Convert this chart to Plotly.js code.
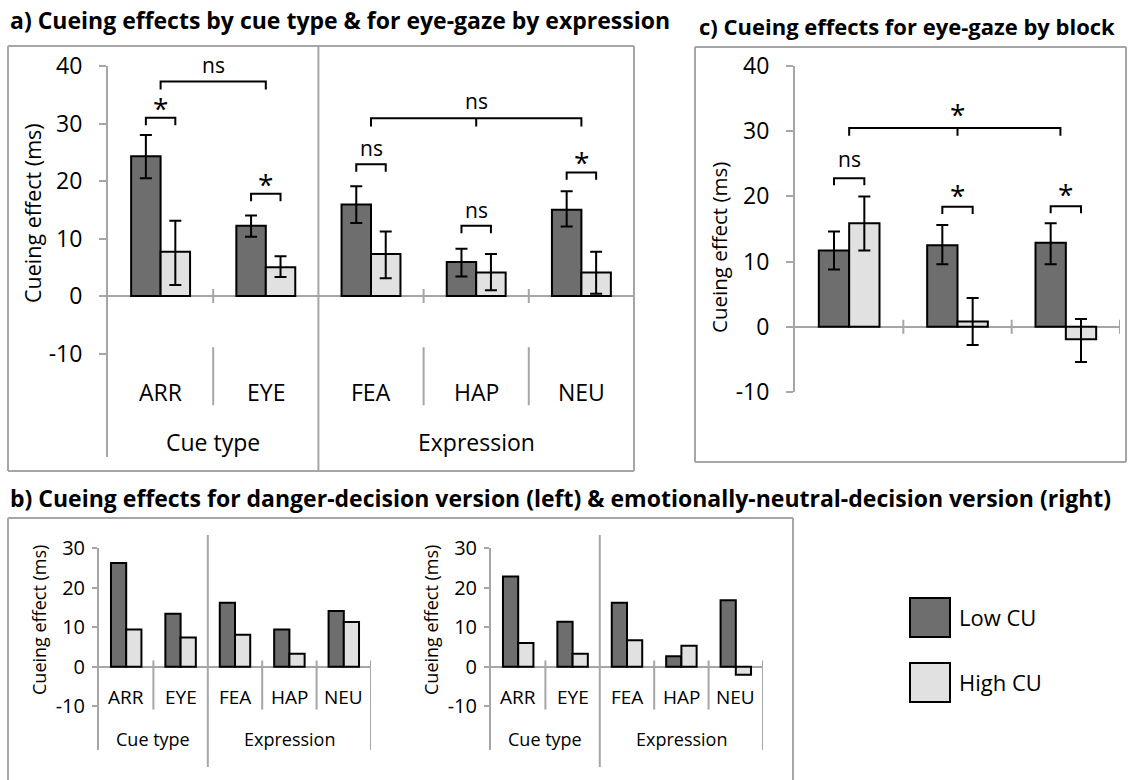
<!DOCTYPE html>
<html>
<head>
<meta charset="utf-8">
<script src="https://cdn.plot.ly/plotly-3.0.1.min.js"></script>
<style>
  html, body { margin: 0; padding: 0; background: #fff; }
  #chart { width: 1128px; height: 780px; }
</style>
</head>
<body>
<div id="chart"></div>
<script>
// ---- Series ----
const seriesNames = ['Low CU', 'High CU'];
const seriesColors = ['#6e6e6e', '#e1e1e1'];

// ---- a) cue type & eye-gaze by expression (means with error-bar bounds) ----
const catsA = ['ARR', 'EYE', 'FEA', 'HAP', 'NEU'];
const groupsA = ['Cue type', 'Expression'];
const groupSizesA = [2, 3];
const lowA = [24.3, 12.2, 15.9, 5.9, 15.0];
const lowA_lo = [20.5, 10.3, 12.7, 3.4, 12.1];
const lowA_hi = [28.0, 14.0, 19.1, 8.2, 18.2];
const highA = [7.7, 5.0, 7.3, 4.1, 4.1];
const highA_lo = [1.9, 3.3, 3.1, 1.0, 0.4];
const highA_hi = [13.1, 6.9, 11.2, 7.3, 7.7];

// ---- c) eye-gaze by block ----
const catsC = ['Block 1', 'Block 2', 'Block 3'];
const lowC = [11.7, 12.5, 12.9];
const lowC_lo = [8.8, 9.6, 9.6];
const lowC_hi = [14.6, 15.6, 15.9];
const highC = [15.9, 0.8, -1.9];
const highC_lo = [11.7, -2.8, -5.4];
const highC_hi = [20.0, 4.4, 1.2];

// ---- b) danger-decision (left) and emotionally-neutral-decision (right) ----
const lowB1 = [26.2, 13.4, 16.2, 9.4, 14.1];
const highB1 = [9.4, 7.4, 8.1, 3.3, 11.3];
const lowB2 = [22.8, 11.4, 16.2, 2.7, 16.8];
const highB2 = [6.0, 3.3, 6.7, 5.3, -2.0];

// ---- significance markers ----
// within-category comparisons (Low vs High CU)
const sigA_cat = [0, 1, 2, 3, 4];
const sigA_text = ['*', '*', 'ns', 'ns', '*'];
const sigA_top = [31.0, 17.8, 22.9, 12.2, 21.5];
// across-category comparisons: [from, to, middle]
const sigA_span = [[0, 1, null], [2, 4, 3]];
const sigA_spanText = ['ns', 'ns'];
const sigA_spanTop = [37.3, 30.9];

const sigC_cat = [0, 1, 2];
const sigC_text = ['ns', '*', '*'];
const sigC_top = [22.8, 18.4, 18.5];
const sigC_span = [[0, 1.95, 1]];
const sigC_spanText = ['*'];
const sigC_spanTop = [30.5];

// ---- layout helpers (paper is 1128 x 780 with no margins) ----
const W = 1128, H = 780;
const px = x => x / W;
const py = y => 1 - y / H;
const GRAY = '#a6a6a6';
const FONT = '"Open Sans", "Noto Sans", sans-serif';
const BAR_OFF = 0.14;   // centre offset of each bar in a pair (category units)

function barPair(xa, ya, low, high, lowBounds, highBounds) {
  const idx = low.map((_, i) => i);
  return [low, high].map((vals, s) => {
    const t = {
      type: 'bar', x: idx, y: vals, xaxis: xa, yaxis: ya, name: seriesNames[s],
      marker: { color: seriesColors[s], line: { color: '#000', width: 2 } },
      hoverinfo: 'skip', showlegend: false
    };
    const b = s === 0 ? lowBounds : highBounds;
    if (b) {
      t.error_y = {
        type: 'data', symmetric: false,
        array: b[1].map((h, i) => h - vals[i]),
        arrayminus: b[0].map((l, i) => vals[i] - l),
        color: '#000', thickness: 2, width: 6
      };
    }
    return t;
  });
}

function yAxis(top, bottom, range, tickvals, anchor, size, ticklen, standoff) {
  return {
    domain: [py(bottom), py(top)], range: range, anchor: anchor,
    tickmode: 'array', tickvals: tickvals, ticktext: tickvals.map(v => String(v)),
    ticks: 'outside', ticklen: ticklen, tickwidth: 2, tickcolor: GRAY,
    showline: true, linecolor: GRAY, linewidth: 2, showgrid: false,
    zeroline: true, zerolinecolor: GRAY, zerolinewidth: 2,
    tickfont: { family: FONT, size: size, color: '#000' },
    ticklabelstandoff: standoff, fixedrange: true
  };
}
function xAxis(left, right, n, anchor) {
  return {
    domain: [px(left), px(right)], range: [-0.5, n - 0.5], anchor: anchor,
    showticklabels: false, ticks: '', showline: false, showgrid: false,
    zeroline: false, fixedrange: true
  };
}

const shapes = [];
const annotations = [];

function line(xref, yref, x0, y0, x1, y1, color, width) {
  shapes.push({ type: 'line', xref, yref, x0, y0, x1, y1, line: { color: color || GRAY, width: width || 2 } });
}
function pxTick(xref, yref, x, up, down) {
  shapes.push({ type: 'line', xref, yref, ysizemode: 'pixel', yanchor: 0, x0: x, x1: x, y0: -down, y1: up,
    line: { color: GRAY, width: 2 } });
}
function text(xref, yref, x, y, t, size, opts) {
  annotations.push(Object.assign({ xref, yref, x, y, text: t, showarrow: false,
    xanchor: 'center', yanchor: 'middle',
    font: { family: FONT, size: size, color: '#000' } }, opts || {}));
}
function bracket(xref, yref, x0, x1, mid, top, drop) {
  let p = `M${x0},${top - drop}L${x0},${top}L${x1},${top}L${x1},${top - drop}`;
  if (mid !== null) p += `M${mid},${top}L${mid},${top - drop}`;
  shapes.push({ type: 'path', xref, yref, path: p, line: { color: '#000', width: 2 } });
}
function sigLabel(xref, yref, x, top, t, shiftStar, shiftNs) {
  text(xref, yref, x, top, t, t === '*' ? 28 : 21,
    { yshift: t === '*' ? shiftStar : shiftNs });
}

// Category and group labels below the zero line
function catLabels(xref, yref, cats, y, size) {
  cats.forEach((c, i) => text(xref, yref, i, y, c, size));
}
function groupLabels(xref, yref, groups, sizes, y, size) {
  let start = 0;
  groups.forEach((g, k) => {
    text(xref, yref, start + (sizes[k] - 1) / 2, y, g, size);
    start += sizes[k];
  });
}
function groupBounds(sizes) {
  const inner = [], outer = [];
  let start = 0;
  sizes.forEach((n, k) => {
    for (let j = 1; j < n; j++) inner.push(start + j - 0.5);
    start += n;
    outer.push(start - 0.5);
  });
  return { inner, outer };
}

// ---------- panel a ----------
const A = { x: 'x', y: 'y' };
const boundsA = groupBounds(groupSizesA);
boundsA.inner.forEach(b => {
  pxTick(A.x, A.y, b, 7, 7);
  line(A.x, A.y, b, -8.9, b, -19.0);
});
// box and divider between the two groups
line('paper', 'paper', px(8), py(46), px(634), py(46));
line('paper', 'paper', px(8), py(471), px(634), py(471));
line('paper', 'paper', px(8), py(46), px(8), py(471));
line('paper', 'paper', px(634), py(46), px(634), py(471));
shapes.push({ type: 'line', xref: A.x, yref: 'paper', x0: boundsA.outer[0], x1: boundsA.outer[0],
  y0: py(471), y1: py(46), line: { color: GRAY, width: 2 } });
catLabels(A.x, A.y, catsA, -16.7, 23);
groupLabels(A.x, A.y, groupsA, groupSizesA, -25.4, 23);
text('paper', 'paper', px(33), py(213), 'Cueing effect (ms)', 21.5, { textangle: -90 });
sigA_cat.forEach((c, k) => {
  bracket(A.x, A.y, c - BAR_OFF, c + BAR_OFF, null, sigA_top[k], 1.3);
  sigLabel(A.x, A.y, c, sigA_top[k], sigA_text[k], 10, 16);
});
sigA_span.forEach((s, k) => {
  bracket(A.x, A.y, s[0], s[1], s[2], sigA_spanTop[k], 1.4);
  sigLabel(A.x, A.y, (s[0] + s[1]) / 2, sigA_spanTop[k], sigA_spanText[k], 10, 17);
});
text('paper', 'paper', px(8), py(20), '<b>a) Cueing effects by cue type &amp; for eye-gaze by expression</b>', 23, { xanchor: 'left' });

// ---------- panel c ----------
const C = { x: 'x2', y: 'y2' };
for (let i = 0; i < catsC.length; i++) pxTick(C.x, C.y, i + 0.5, 7, 7);
line('paper', 'paper', px(695), py(47), px(1126), py(47));
line('paper', 'paper', px(695), py(462), px(1126), py(462));
line('paper', 'paper', px(695), py(47), px(695), py(462));
line('paper', 'paper', px(1126), py(47), px(1126), py(462));
catLabels(C.x, C.y, catsC, -15.4, 22);
text('paper', 'paper', px(719), py(248), 'Cueing effect (ms)', 20.5, { textangle: -90 });
sigC_cat.forEach((c, k) => {
  bracket(C.x, C.y, c - BAR_OFF, c + BAR_OFF, null, sigC_top[k], 1.1);
  sigLabel(C.x, C.y, c, sigC_top[k], sigC_text[k], 12, 19);
});
sigC_span.forEach((s, k) => {
  bracket(C.x, C.y, s[0], s[1], s[2], sigC_spanTop[k], 1.2);
  sigLabel(C.x, C.y, s[2], sigC_spanTop[k], sigC_spanText[k], 14, 19);
});
text('paper', 'paper', px(697), py(26), '<b>c) Cueing effects for eye-gaze by block</b>', 22, { xanchor: 'left' });

// ---------- panel b (two small charts) ----------
line('paper', 'paper', px(8), py(518), px(793), py(518));
line('paper', 'paper', px(8), py(518), px(8), py(790));
line('paper', 'paper', px(793), py(518), px(793), py(790));
const bPanels = [{ x: 'x3', y: 'y3', titleX: 39 }, { x: 'x4', y: 'y4', titleX: 431 }];
const boundsB = groupBounds(groupSizesA);
bPanels.forEach(P => {
  boundsB.inner.forEach(b => line(P.x, P.y, b, 1.6, b, -10.8));
  line(P.x, P.y, boundsB.outer[1], 1.6, boundsB.outer[1], -21);
  shapes.push({ type: 'line', xref: P.x, yref: 'paper', x0: boundsB.outer[0], x1: boundsB.outer[0],
    y0: py(767), y1: py(535), line: { color: GRAY, width: 2 } });
  catLabels(P.x, P.y, catsA, -7.7, 19);
  groupLabels(P.x, P.y, groupsA, groupSizesA, -18.1, 18);
  text('paper', 'paper', px(P.titleX), py(620), 'Cueing effect (ms)', 18, { textangle: -90 });
});
text('paper', 'paper', px(8), py(498), '<b>b) Cueing effects for danger-decision version (left) &amp; emotionally-neutral-decision version (right)</b>', 23, { xanchor: 'left' });

// ---------- legend ----------
const legendTops = [598, 663];
seriesNames.forEach((n, s) => {
  shapes.push({ type: 'rect', xref: 'paper', yref: 'paper', x0: px(910), x1: px(950),
    y0: py(legendTops[s] + 39), y1: py(legendTops[s]),
    fillcolor: seriesColors[s], line: { color: '#000', width: 2 } });
  text('paper', 'paper', px(957), py(legendTops[s] + 19), n, 22, { xanchor: 'left' });
});

// ---------- traces ----------
const traces = [].concat(
  barPair(A.x, A.y, lowA, highA, [lowA_lo, lowA_hi], [highA_lo, highA_hi]),
  barPair(C.x, C.y, lowC, highC, [lowC_lo, lowC_hi], [highC_lo, highC_hi]),
  barPair('x3', 'y3', lowB1, highB1, null, null),
  barPair('x4', 'y4', lowB2, highB2, null, null)
);

const layout = {
  width: W, height: H,
  margin: { l: 0, r: 0, t: 0, b: 0, pad: 0 },
  paper_bgcolor: '#fff', plot_bgcolor: 'rgba(0,0,0,0)',
  barmode: 'group', bargap: 0.44, bargroupgap: 0,
  showlegend: false,
  font: { family: FONT, color: '#000' },
  xaxis: xAxis(108, 634, catsA.length, 'y'),
  yaxis: yAxis(66, 457, [-28, 40], [-10, 0, 10, 20, 30, 40], 'x', 23, 7, 12),
  xaxis2: xAxis(795, 1120, catsC.length, 'y2'),
  yaxis2: yAxis(66, 392, [-10, 40], [-10, 0, 10, 20, 30, 40], 'x2', 23, 7, 12),
  xaxis3: xAxis(99, 371, catsA.length, 'y3'),
  yaxis3: yAxis(548, 750, [-21, 30], [-10, 0, 10, 20, 30], 'x3', 20, 5, 3),
  xaxis4: xAxis(491, 763, catsA.length, 'y4'),
  yaxis4: yAxis(548, 750, [-21, 30], [-10, 0, 10, 20, 30], 'x4', 20, 5, 3),
  shapes: shapes,
  annotations: annotations
};

Plotly.newPlot('chart', traces, layout, { staticPlot: true, displayModeBar: false });
</script>
</body>
</html>
